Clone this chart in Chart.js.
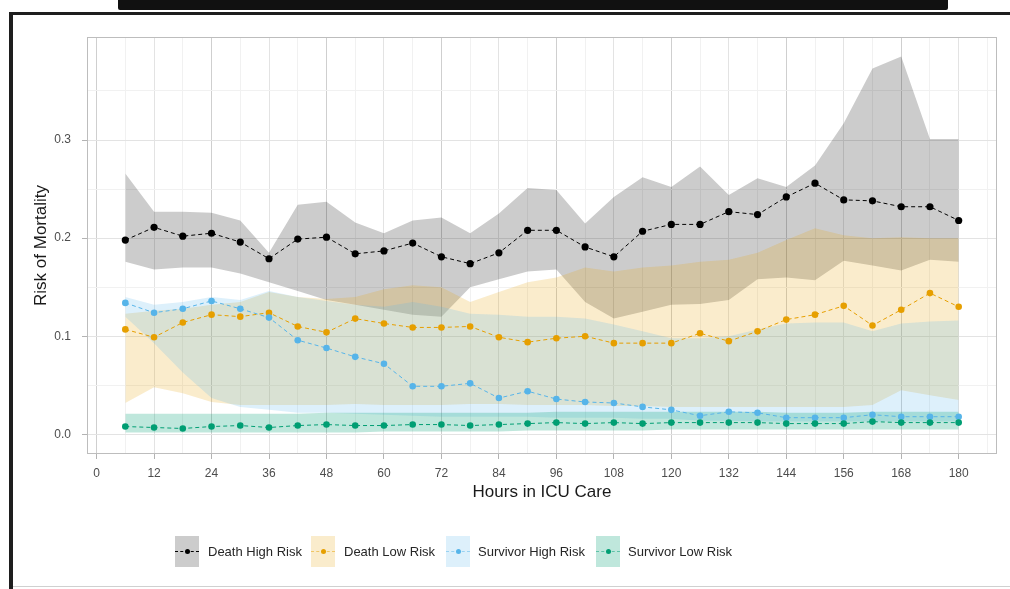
<!DOCTYPE html>
<html><head><meta charset="utf-8">
<script src="https://cdn.jsdelivr.net/npm/chart.js@4.4.1/dist/chart.umd.min.js"></script>
<style>
html,body{margin:0;padding:0;background:#fff;width:1010px;height:589px;overflow:hidden;font-family:"Liberation Sans",Arial,sans-serif;}
#wrap{position:relative;width:1010px;height:589px;}
#c{position:absolute;left:0;top:0;}
.topbar{position:absolute;left:118px;top:0;width:830px;height:10px;background:#111;border-radius:0 0 2px 2px;}
.frameTop{position:absolute;left:9px;top:12px;width:1001px;height:3px;background:#1e1e1e;}
.frameLeft{position:absolute;left:9px;top:12px;width:4px;height:577px;background:#1e1e1e;}
.frameBottom{position:absolute;left:13px;top:586px;width:997px;height:1px;background:#d0d0d0;}
.key{position:absolute;top:536px;width:24px;height:31px;}
.key .ln{position:absolute;left:0;right:0;top:15px;height:0;border-top:1px dashed;}
.key .dot{position:absolute;left:9.5px;top:13px;width:5px;height:5px;border-radius:50%;}
.lt{position:absolute;top:543px;font-size:13px;line-height:17px;color:#262626;white-space:nowrap;}
</style></head>
<body><div id="wrap">
<canvas id="c" width="1010" height="589"></canvas>
<div class="topbar"></div><div class="frameTop"></div><div class="frameLeft"></div><div class="frameBottom"></div>
<div class="key" style="left:175px;background:#cccccc"><span class="ln" style="border-color:#000"></span><span class="dot" style="background:#000"></span></div>
<div class="lt" style="left:208px">Death High Risk</div>
<div class="key" style="left:311px;background:rgb(250,236,204)"><span class="ln" style="border-color:rgba(230,159,0,0.5)"></span><span class="dot" style="background:#E69F00"></span></div>
<div class="lt" style="left:344px">Death Low Risk</div>
<div class="key" style="left:446px;background:rgb(221,240,251)"><span class="ln" style="border-color:rgba(86,180,233,0.5)"></span><span class="dot" style="background:#56B4E9"></span></div>
<div class="lt" style="left:478px">Survivor High Risk</div>
<div class="key" style="left:596px;background:rgb(191,231,220)"><span class="ln" style="border-color:rgba(0,158,115,0.5)"></span><span class="dot" style="background:#009E73"></span></div>
<div class="lt" style="left:628px">Survivor Low Risk</div>
</div>
<script>
const hours = [6,12,18,24,30,36,42,48,54,60,66,72,78,84,90,96,102,108,114,120,126,132,138,144,150,156,162,168,174,180];
const xTickLabels = ['0','12','24','36','48','60','72','84','96','108','120','132','144','156','168','180'];
const yTickLabels = ['0.0','0.1','0.2','0.3'];
const seriesNames = ['Death High Risk','Death Low Risk','Survivor High Risk','Survivor Low Risk'];

const deathHighMean  = [0.198,0.211,0.202,0.205,0.196,0.179,0.199,0.201,0.184,0.187,0.195,0.181,0.174,0.185,0.208,0.208,0.191,0.181,0.207,0.214,0.214,0.227,0.224,0.242,0.256,0.239,0.238,0.232,0.232,0.218];
const deathHighUpper = [0.266,0.227,0.227,0.226,0.218,0.185,0.234,0.237,0.216,0.205,0.218,0.221,0.205,0.225,0.251,0.249,0.215,0.242,0.262,0.252,0.273,0.244,0.261,0.252,0.274,0.317,0.373,0.385,0.301,0.301];
const deathHighLower = [0.176,0.168,0.170,0.170,0.164,0.155,0.146,0.137,0.132,0.127,0.122,0.120,0.150,0.158,0.166,0.168,0.135,0.118,0.125,0.132,0.133,0.137,0.158,0.160,0.157,0.177,0.172,0.167,0.178,0.176];

const deathLowMean  = [0.107,0.099,0.114,0.122,0.120,0.124,0.110,0.104,0.118,0.113,0.109,0.109,0.110,0.099,0.094,0.098,0.100,0.093,0.093,0.093,0.103,0.095,0.105,0.117,0.122,0.131,0.111,0.127,0.144,0.130];
const deathLowUpper = [0.123,0.126,0.128,0.132,0.135,0.145,0.140,0.138,0.140,0.148,0.152,0.150,0.135,0.145,0.155,0.160,0.170,0.166,0.170,0.172,0.176,0.178,0.185,0.198,0.210,0.203,0.200,0.201,0.200,0.200];
const deathLowLower = [0.032,0.048,0.042,0.033,0.030,0.030,0.030,0.030,0.031,0.030,0.030,0.030,0.031,0.031,0.030,0.030,0.030,0.029,0.029,0.028,0.028,0.028,0.028,0.028,0.028,0.028,0.030,0.045,0.040,0.035];

const survHighMean  = [0.134,0.124,0.128,0.136,0.128,0.119,0.096,0.088,0.079,0.072,0.049,0.049,0.052,0.037,0.044,0.036,0.033,0.032,0.028,0.025,0.019,0.023,0.022,0.017,0.017,0.017,0.020,0.018,0.018,0.018];
const survHighUpper = [0.140,0.132,0.135,0.140,0.137,0.146,0.140,0.136,0.132,0.130,0.135,0.130,0.123,0.122,0.120,0.120,0.118,0.112,0.105,0.098,0.098,0.100,0.107,0.113,0.114,0.114,0.105,0.113,0.115,0.116];
const survHighLower = [0.120,0.093,0.063,0.037,0.028,0.025,0.022,0.022,0.021,0.020,0.019,0.018,0.018,0.018,0.018,0.017,0.017,0.017,0.016,0.016,0.014,0.014,0.013,0.013,0.013,0.013,0.013,0.013,0.013,0.013];

const survLowMean  = [0.008,0.007,0.006,0.008,0.009,0.007,0.009,0.010,0.009,0.009,0.010,0.010,0.009,0.010,0.011,0.012,0.011,0.012,0.011,0.012,0.012,0.012,0.012,0.011,0.011,0.011,0.013,0.012,0.012,0.012];
const survLowUpper = [0.021,0.021,0.021,0.021,0.021,0.021,0.021,0.022,0.022,0.022,0.022,0.022,0.022,0.022,0.022,0.023,0.023,0.023,0.023,0.023,0.023,0.023,0.023,0.022,0.022,0.022,0.023,0.023,0.023,0.023];
const survLowLower = [0.002,0.002,0.002,0.002,0.002,0.002,0.002,0.002,0.002,0.003,0.003,0.003,0.003,0.003,0.004,0.004,0.004,0.004,0.004,0.005,0.005,0.005,0.005,0.005,0.005,0.005,0.005,0.005,0.005,0.005];

const pts = arr => arr.map((v,i)=>({x:hours[i], y:v}));

function meanSet(name, data, color, order, r){
  return {label:name, data:pts(data), borderColor:color, borderWidth:1, borderDash:[4,3],
    pointRadius:r, pointBackgroundColor:color, pointBorderWidth:0, pointHoverRadius:r,
    fill:false, tension:0, order:order};
}
function bandSets(name, lower, upper, fillColor, order){
  return [
    {label:name+' lower', data:pts(lower), borderWidth:0, pointRadius:0, fill:false, order:order, tension:0},
    {label:name+' upper', data:pts(upper), borderWidth:0, pointRadius:0, fill:'-1', backgroundColor:fillColor, order:order, tension:0}
  ];
}

const datasets = [
  meanSet(seriesNames[3], survLowMean, '#009E73', 0, 3.3),
  meanSet(seriesNames[2], survHighMean, '#56B4E9', 1, 3.3),
  meanSet(seriesNames[1], deathLowMean, '#E69F00', 2, 3.3),
  meanSet(seriesNames[0], deathHighMean, '#000000', 3, 3.6),
  ...bandSets(seriesNames[3], survLowLower, survLowUpper, 'rgba(0,158,115,0.25)', 7),
  ...bandSets(seriesNames[2], survHighLower, survHighUpper, 'rgba(86,180,233,0.2)', 8),
  ...bandSets(seriesNames[1], deathLowLower, deathLowUpper, 'rgba(230,159,0,0.2)', 9),
  ...bandSets(seriesNames[0], deathHighLower, deathHighUpper, 'rgba(0,0,0,0.2)', 10)
];

const panelBorder = {
  id:'panelBorder',
  afterDraw(chart){
    const {ctx, chartArea:a} = chart;
    ctx.save();
    ctx.strokeStyle = '#bdbdbd'; ctx.lineWidth = 1;
    ctx.strokeRect(Math.round(a.left)+0.5, Math.round(a.top)+0.5, Math.round(a.right-a.left)-1, Math.round(a.bottom-a.top)-1);
    ctx.restore();
  }
};

const isMult = (v, m) => Math.abs(v/m - Math.round(v/m)) < 1e-6;
const FONT = '"Liberation Sans", Arial, sans-serif';

new Chart(document.getElementById('c'), {
  type:'line',
  data:{datasets},
  plugins:[panelBorder],
  options:{
    responsive:false, animation:false, devicePixelRatio:1,
    layout:{padding:{left:15, right:13, top:37, bottom:75}},
    plugins:{legend:{display:false}, tooltip:{enabled:false}},
    scales:{
      x:{type:'linear', min:-2, max:188,
        afterFit(s){ s.height = 60; },
        border:{display:false},
        grid:{
          color:c => { const v=c.tick?c.tick.value:0; return isMult(v,24)?'#cfcfcf':(isMult(v,12)?'#e3e3e3':'#f1f1f1'); },
          tickColor:c => { const v=c.tick?c.tick.value:0; return (isMult(v,12) && v<=180)?'#b3b3b3':'rgba(0,0,0,0)'; },
          tickLength:5, lineWidth:1
        },
        ticks:{stepSize:6, includeBounds:false, autoSkip:false, maxRotation:0, minRotation:0, padding:7,
          color:'#4d4d4d', font:{family:FONT, size:12},
          callback:v => { const i = xTickLabels.indexOf(String(v)); return (isMult(v,12) && i>=0) ? xTickLabels[i] : ''; }
        },
        title:{display:true, text:'Hours in ICU Care', color:'#1a1a1a', font:{family:FONT, size:17}, padding:{top:2, bottom:11}}
      },
      y:{type:'linear', min:-0.02, max:0.405,
        afterFit(s){ s.width = 72; },
        border:{display:false},
        grid:{
          color:c => { const v=c.tick?c.tick.value:0; if (v>0.36) return 'rgba(0,0,0,0)'; return isMult(v,0.1)?'#e3e3e3':'#f1f1f1'; },
          tickColor:c => { const v=c.tick?c.tick.value:0; return (isMult(v,0.1) && v<0.36)?'#b3b3b3':'rgba(0,0,0,0)'; },
          tickLength:5, lineWidth:1
        },
        ticks:{stepSize:0.05, includeBounds:false, autoSkip:false, padding:11,
          color:'#4d4d4d', font:{family:FONT, size:12},
          callback:v => { if (!isMult(v,0.1)) return ''; const i = Math.round(v*10); return yTickLabels[i] || ''; }
        },
        title:{display:true, text:'Risk of Mortality', color:'#1a1a1a', font:{family:FONT, size:17}, padding:{top:16, bottom:2}}
      }
    }
  }
});
</script>
</body></html>
